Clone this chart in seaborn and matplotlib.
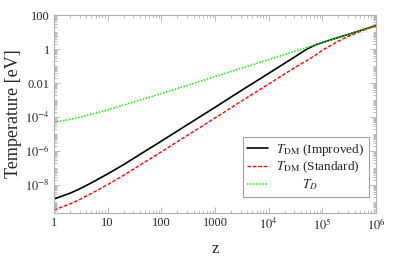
import numpy as np
import pandas as pd
import matplotlib
matplotlib.use("Agg")
import matplotlib.pyplot as plt
import matplotlib.ticker as mticker
import seaborn as sns

# ---- data ----
z = [1, 2, 3, 5, 10, 20, 50, 100, 300, 1000, 3000, 1e4, 3e4, 5e4, 7.6e4,
     1e5, 2e5, 3e5, 5e5, 1e6]
T_improved = [1.5e-9, 3.3e-9, 5.9e-9, 1.35e-8, 4.5e-8, 1.6e-7, 9.8e-7, 3.8e-6,
              3.4e-5, 3.7e-4, 3.4e-3, 0.037, 0.33, 0.93, 1.8,
              2.4, 4.8, 7.2, 12.0, 24.0]
T_standard = [3.4e-10, 7.7e-10, 1.4e-9, 3.2e-9, 1.05e-8, 3.8e-8, 2.3e-7, 8.9e-7,
              8.0e-6, 8.7e-5, 8.0e-4, 8.7e-3, 0.077, 0.2, 0.45,
              0.85, 2.9, 5.5, 10.5, 24.0]
T_D = [4.9e-5, 7.3e-5, 9.7e-5, 1.45e-4, 2.65e-4, 5.1e-4, 1.23e-3, 2.4e-3,
       7.2e-3, 0.024, 0.072, 0.24, 0.72, 1.2, 1.8,
       2.4, 4.8, 7.2, 12.0, 24.0]

labels = [r"$T_{\rm DM}$ (Improved)", r"$T_{\rm DM}$ (Standard)", r"        $T_D$"]

x_ticks = [1, 10, 100, 1000, 1e4, 1e5, 1e6]
x_ticklabels = ["1", "10", "100", "1000", r"$10^4$", r"$10^5$", r"$10^6$"]
y_ticks = [1e-8, 1e-6, 1e-4, 1e-2, 1, 100]
y_ticklabels = [r"$10^{-8}$", r"$10^{-6}$", r"$10^{-4}$", "0.01", "1", "100"]

# ---- style ----
sns.set_theme(style="ticks")
plt.rcParams["font.family"] = ["Liberation Serif", "DejaVu Serif"]
plt.rcParams["mathtext.fontset"] = "stix"

frame_col = "#b0b0b0"

fig = plt.figure(figsize=(4.15, 2.59), dpi=100)
ax = fig.add_axes([0.130, 0.178, 0.776, 0.764])

df = pd.DataFrame({"z": z * 3,
                   "T": T_improved + T_standard + T_D,
                   "series": [labels[0]] * len(z) + [labels[1]] * len(z) + [labels[2]] * len(z)})

colors = {labels[0]: "black", labels[1]: "#ff0000", labels[2]: "#11f000"}
styles = {labels[0]: "-", labels[1]: (0, (2.6, 1.3)), labels[2]: (0, (1, 1))}
widths = {labels[0]: 1.2, labels[1]: 1.0, labels[2]: 1.1}

for lab in labels:
    sub = df[df["series"] == lab]
    sns.lineplot(data=sub, x="z", y="T", ax=ax, color=colors[lab],
                 linestyle=styles[lab], linewidth=widths[lab], label=lab,
                 estimator=None, sort=False)

ax.set_xscale("log")
ax.set_yscale("log")
ax.set_xlim(1, 1e6)
ax.set_ylim(10 ** -9.64, 100)

ax.xaxis.set_major_locator(mticker.FixedLocator(x_ticks))
ax.xaxis.set_major_formatter(mticker.FixedFormatter(x_ticklabels))
ax.xaxis.set_minor_locator(mticker.LogLocator(base=10, subs=np.arange(2, 10), numticks=100))
ax.xaxis.set_minor_formatter(mticker.NullFormatter())

ax.yaxis.set_major_locator(mticker.FixedLocator(y_ticks))
ax.yaxis.set_major_formatter(mticker.FixedFormatter(y_ticklabels))
ax.yaxis.set_minor_locator(mticker.LogLocator(base=10, subs=np.arange(1, 10), numticks=100))
ax.yaxis.set_minor_formatter(mticker.NullFormatter())

ax.tick_params(which="both", direction="in", top=True, right=True,
               color=frame_col, labelsize=9, pad=3, width=0.6)
ax.tick_params(which="major", length=4)
ax.tick_params(which="minor", length=2)
for sp in ax.spines.values():
    sp.set_color(frame_col)
    sp.set_linewidth(0.8)

ax.set_xlabel("z", fontsize=12, labelpad=6)
ax.set_ylabel("Temperature [eV]", fontsize=13, labelpad=2)

leg = ax.legend(loc="lower right", bbox_to_anchor=(0.978, 0.081), fontsize=9.5,
                frameon=True, fancybox=False, edgecolor="#888888",
                handlelength=1.6, handletextpad=0.6, borderpad=0.35,
                labelspacing=0.15, borderaxespad=0)
leg.get_frame().set_linewidth(0.8)

fig.savefig("out.png", dpi=100)
